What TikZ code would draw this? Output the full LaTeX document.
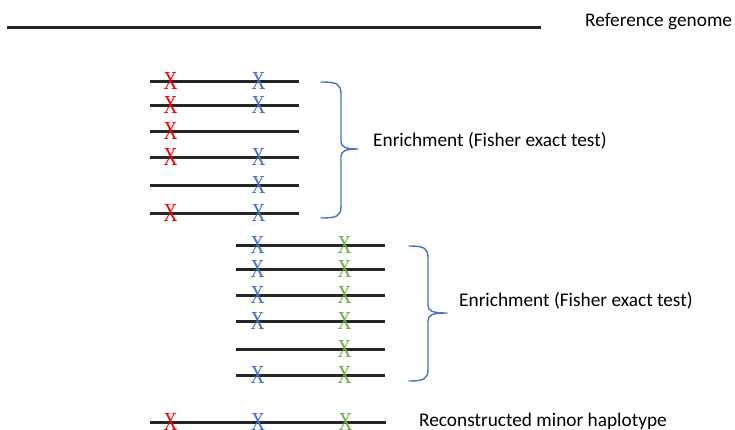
\documentclass[tikz,border=0pt]{standalone}
\usepackage{fontspec}
\usepackage{graphicx}
\setmainfont{Carlito}
\newfontfamily\markfont{Liberation Serif}
\definecolor{snpred}{HTML}{FF0000}
\definecolor{snpblue}{HTML}{4472C4}
\definecolor{snpgreen}{HTML}{70AD47}
\definecolor{readline}{HTML}{262626}
\newcommand{\snpmark}{\scalebox{0.74}[1]{X}}
\begin{document}
\begin{tikzpicture}[x=1pt,y=-1pt,
  read/.style={draw=readline, line width=3pt},
  snp/.style={font=\markfont\fontsize{26}{26}\selectfont, inner sep=0pt, anchor=center},
  caption/.style={font=\fontsize{19.3}{22}\selectfont, anchor=west, inner sep=0pt},
  bracket/.style={draw=snpblue, line width=1.4pt, line join=round, line cap=round}]
\useasboundingbox (0,0) rectangle (735,429);

% reference genome
\coordinate (refl) at (7,27);
\coordinate (refr) at (541,27);
\draw[read] (refl) -- (refr);
\node[caption] (ref) at (585,22) {Reference genome};

% first block of reads: red and blue variants
\foreach \r/\yy in {1/81,2/105,3/131,4/157,5/185,6/213} {
  \coordinate (a\r l) at (150,\yy);
  \coordinate (a\r r) at (299,\yy);
  \draw[read] (a\r l) -- (a\r r);
}
\foreach \r in {1,2,3,4,6}
  \path (a\r l) ++(20.5,0) node[snp,text=snpred] (ared\r) {\snpmark};
\foreach \r in {1,2,4,5,6}
  \path (a\r l) ++(108.5,0) node[snp,text=snpblue] (ablue\r) {\snpmark};

% brace for the first block
\coordinate (b1top) at (321,82);
\coordinate (b1tip) at (358,149);
\coordinate (b1bot) at (321,218);
\draw[bracket] (b1top) .. controls (337,82) and (341,84) .. (341,94)
  -- (341,141) .. controls (341,147) and (345,149) .. (b1tip)
  .. controls (345,149) and (341,151) .. (341,157)
  -- (341,206) .. controls (341,216) and (337,218) .. (b1bot);
\node[caption] (enr1) at (373,141) {Enrichment (Fisher exact test)};

% second block of reads: blue and green variants
\foreach \r/\yy in {1/245,2/269,3/295,4/321,5/349,6/375} {
  \coordinate (c\r l) at (236,\yy);
  \coordinate (c\r r) at (385,\yy);
  \draw[read] (c\r l) -- (c\r r);
}
\foreach \r in {1,2,3,4,6}
  \path (c\r l) ++(21.5,0) node[snp,text=snpblue] (cblue\r) {\snpmark};
\foreach \r in {1,2,3,4,5,6}
  \path (c\r l) ++(108.5,0) node[snp,text=snpgreen] (cgreen\r) {\snpmark};

% brace for the second block
\coordinate (b2top) at (409,246);
\coordinate (b2tip) at (447,313);
\coordinate (b2bot) at (409,381);
\draw[bracket] (b2top) .. controls (424,246) and (428,248) .. (428,258)
  -- (428,305) .. controls (428,311) and (432,313) .. (b2tip)
  .. controls (432,313) and (428,315) .. (428,321)
  -- (428,369) .. controls (428,379) and (424,381) .. (b2bot);
\node[caption] (enr2) at (459,301) {Enrichment (Fisher exact test)};

% reconstructed haplotype
\coordinate (hl) at (150,422);
\coordinate (hr) at (386,422);
\draw[read] (hl) -- (hr);
\path (hl) ++(20.5,0) node[snp,text=snpred] (hred) {\snpmark};
\path (hl) ++(108,0) node[snp,text=snpblue] (hblue) {\snpmark};
\path (hl) ++(195.5,0) node[snp,text=snpgreen] (hgreen) {\snpmark};
\node[caption] (recon) at (419,421) {Reconstructed minor haplotype};
\end{tikzpicture}
\end{document}
